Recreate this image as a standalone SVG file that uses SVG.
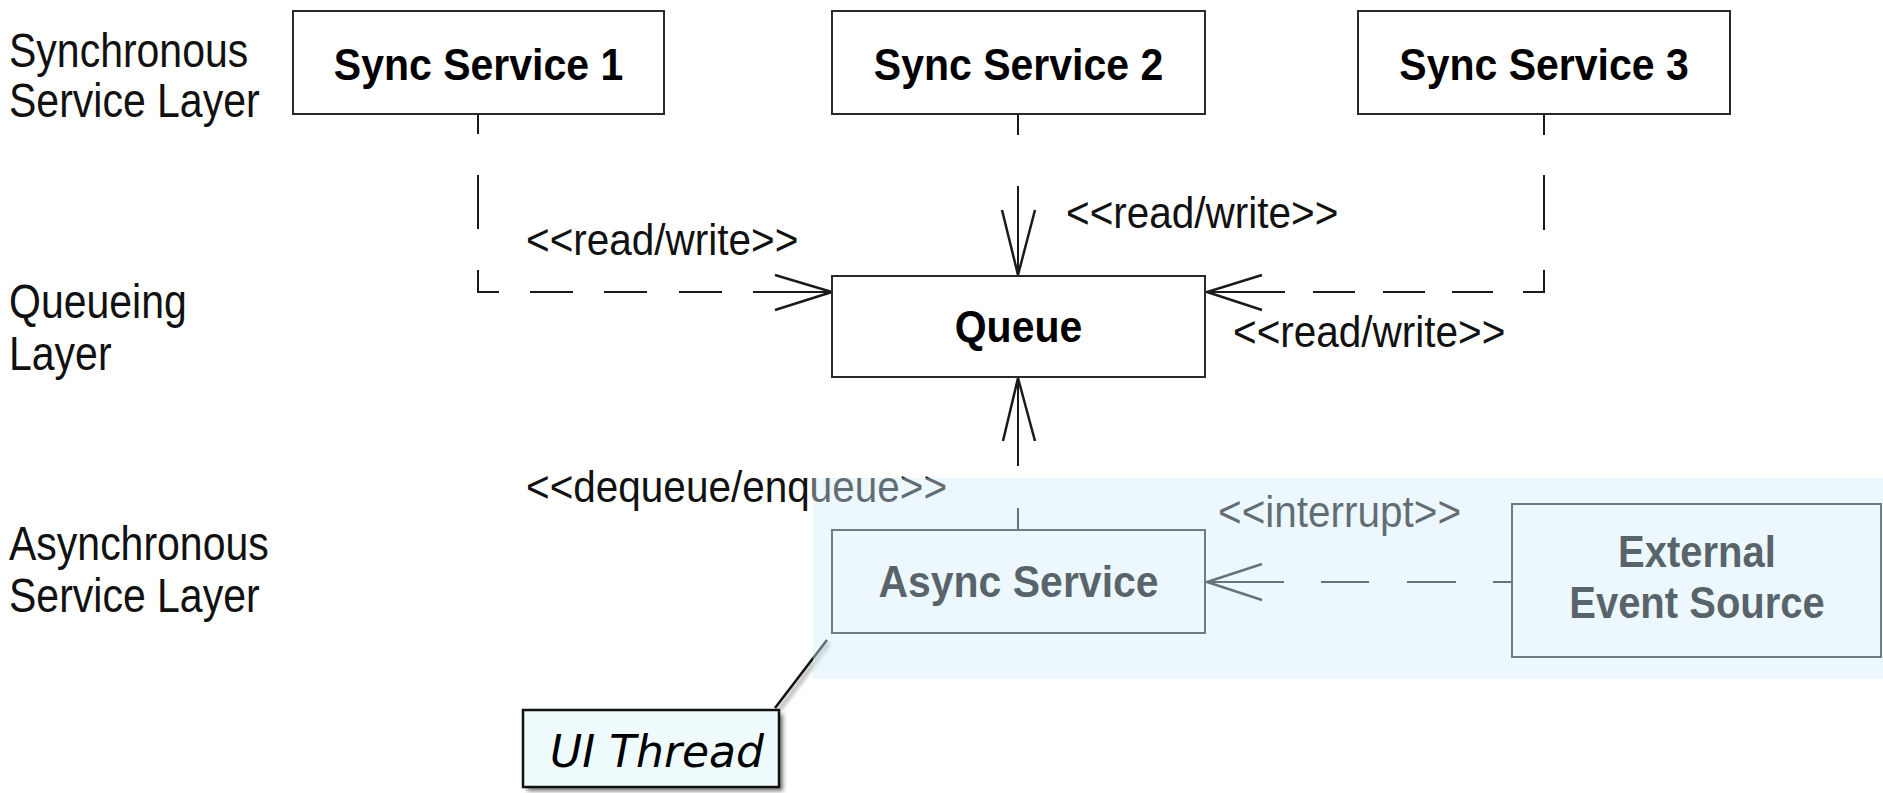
<svg xmlns="http://www.w3.org/2000/svg" width="1883" height="793" viewBox="0 0 1883 793">
  <defs>
    <style>
      .box{fill:#ffffff;stroke:#2a2a2a;stroke-width:2}
      .layer{font-family:"Liberation Sans",Arial,sans-serif;font-size:41px;fill:#111}
      .lbl{font-family:"Liberation Sans",Arial,sans-serif;font-size:40.5px;fill:#111}
      .title{font-family:"Liberation Sans",Arial,sans-serif;font-size:41px;font-weight:bold;fill:#000;text-anchor:middle}
      .conn{fill:none;stroke:#1a1a1a;stroke-width:2}
      .head{fill:none;stroke:#1a1a1a;stroke-width:2.5;stroke-linejoin:miter}
      .note{fill:#effbfd;stroke:#111;stroke-width:2.5}
      .notetext{font-family:"DejaVu Sans",Verdana,sans-serif;font-style:italic;font-size:44px;fill:#000}
    </style>
    <filter id="blur" x="-20%" y="-20%" width="140%" height="140%">
      <feGaussianBlur stdDeviation="2"/>
    </filter>
  </defs>

  <rect width="1883" height="793" fill="#ffffff"/>

  <g id="layer-labels">
    <text class="layer" transform="translate(9 67) scale(1 1.15)">Synchronous</text>
    <text class="layer" transform="translate(9 117) scale(1 1.15)">Service Layer</text>
    <text class="layer" transform="translate(9 318) scale(1 1.15)">Queueing</text>
    <text class="layer" transform="translate(9 370) scale(1 1.15)">Layer</text>
    <text class="layer" transform="translate(9 560) scale(1 1.15)">Asynchronous</text>
    <text class="layer" transform="translate(9 612) scale(1 1.15)">Service Layer</text>
  </g>

  <g id="connectors">
    <!-- Sync Service 1 -> Queue -->
    <path class="conn" d="M478 114 V134 M478 175 V229 M478 270 V292 H499 M530 292 H573 M604 292 H647 M679 292 H722 M753 292 H832"/>
    <polyline class="head" points="775,275 832,292 775,310"/>
    <!-- Sync Service 2 -> Queue -->
    <path class="conn" d="M1018 114 V135 M1018 186 V276"/>
    <polyline class="head" points="1002,210 1018,275 1035,210"/>
    <!-- Sync Service 3 -> Queue -->
    <path class="conn" d="M1544 114 V135 M1544 175 V230 M1544 270 V292 H1523 M1493 292 H1452 M1425 292 H1383 M1355 292 H1313 M1285 292 H1206"/>
    <polyline class="head" points="1262,275 1207,292 1262,310"/>
    <!-- Async Service -> Queue -->
    <path class="conn" d="M1018 530 V508 M1018 466 V377"/>
    <polyline class="head" points="1003,441 1018,378 1035,441"/>
    <!-- External Event Source -> Async Service -->
    <path class="conn" d="M1512 582 H1493 M1456 582 H1407 M1369 582 H1321 M1284 582 H1207"/>
    <polyline class="head" points="1262,564 1207,582 1262,600"/>

    <text class="lbl" transform="translate(526 255) scale(1 1.1)">&lt;&lt;read/write&gt;&gt;</text>
    <text class="lbl" transform="translate(1066 228) scale(1 1.1)">&lt;&lt;read/write&gt;&gt;</text>
    <text class="lbl" transform="translate(1233 347) scale(1 1.1)">&lt;&lt;read/write&gt;&gt;</text>
    <text class="lbl" transform="translate(526 502) scale(1 1.1)">&lt;&lt;dequeue/enqueue&gt;&gt;</text>
    <text class="lbl" transform="translate(1218 527) scale(1 1.1)">&lt;&lt;interrupt&gt;&gt;</text>
  </g>

  <g id="sync-service-1">
    <rect class="box" x="293" y="11" width="371" height="103"/>
    <text class="title" transform="translate(478.5 80) scale(1 1.1)">Sync Service 1</text>
  </g>
  <g id="sync-service-2">
    <rect class="box" x="832" y="11" width="373" height="103"/>
    <text class="title" transform="translate(1018.5 80) scale(1 1.1)">Sync Service 2</text>
  </g>
  <g id="sync-service-3">
    <rect class="box" x="1358" y="11" width="372" height="103"/>
    <text class="title" transform="translate(1544 80) scale(1 1.1)">Sync Service 3</text>
  </g>
  <g id="queue">
    <rect class="box" x="832" y="276" width="373" height="101"/>
    <text class="title" transform="translate(1018.5 342) scale(1 1.1)">Queue</text>
  </g>
  <g id="async-service">
    <rect class="box" x="832" y="530" width="373" height="103"/>
    <text class="title" transform="translate(1018.5 597) scale(1 1.1)">Async Service</text>
  </g>
  <g id="external-event-source">
    <rect class="box" x="1512" y="504" width="369" height="153"/>
    <text class="title" transform="translate(1697 567) scale(1 1.1)" style="font-size:40px">External</text>
    <text class="title" transform="translate(1697 618) scale(1 1.1)" style="font-size:40px">Event Source</text>
  </g>

  <g id="ui-thread-note">
    <line x1="829" y1="643" x2="779" y2="710" stroke="#999" stroke-width="3" filter="url(#blur)"/>
    <line x1="827" y1="640" x2="775" y2="708" stroke="#111" stroke-width="2.5"/>
    <rect x="527" y="714" width="256" height="77" fill="#777" filter="url(#blur)"/>
    <rect class="note" x="523" y="710" width="256" height="77"/>
    <text class="notetext" x="550" y="767">UI Thread</text>
  </g>

  <rect id="async-layer-panel" x="813" y="478" width="1070" height="201" fill="rgb(210,238,252)" fill-opacity="0.42"/>
</svg>
